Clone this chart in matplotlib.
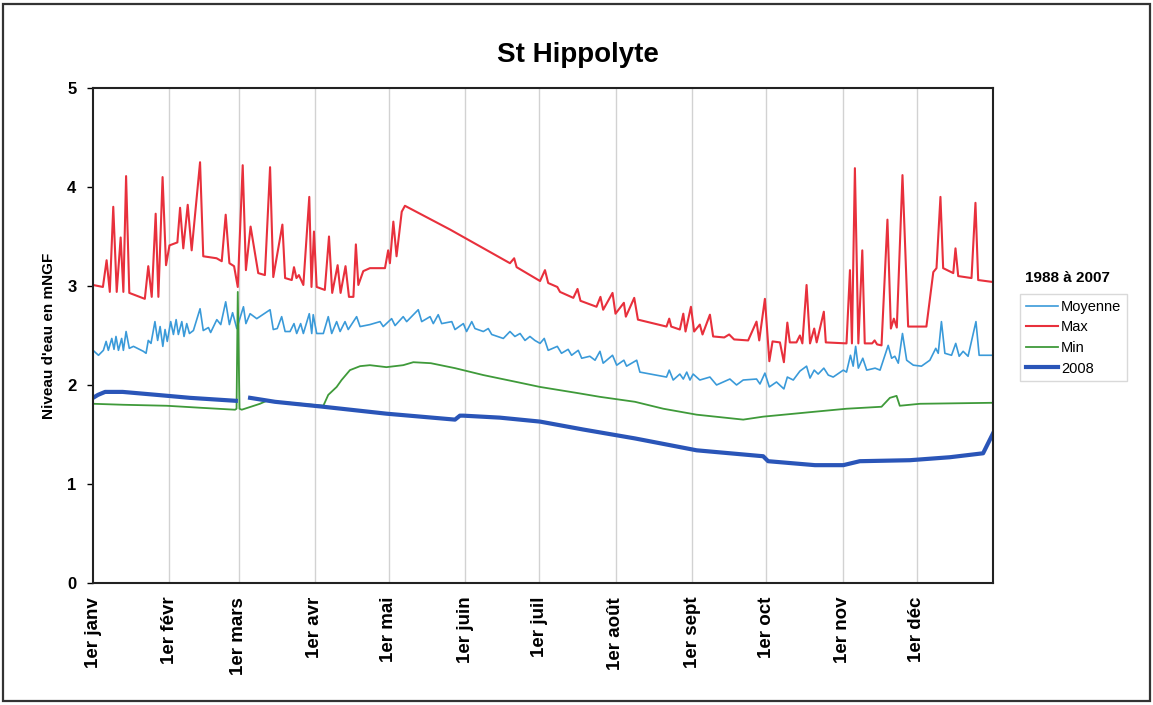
import numpy as np
import matplotlib
matplotlib.use("Agg")
import matplotlib.pyplot as plt
from matplotlib.patches import Rectangle

plt.rcParams['font.family'] = ['Liberation Sans', 'DejaVu Sans']

# month starts (day of year) and their labels
month_days = [0, 31, 59, 90, 120, 151, 181, 212, 243, 273, 304, 334]
month_labels = ["1er janv", "1er févr", "1er mars", "1er avr", "1er mai", "1er juin",
                "1er juil", "1er août", "1er sept", "1er oct", "1er nov", "1er déc"]

# Max 1988-2007 (day, level)
max_days = [0, 4, 5.5, 6.8, 8.2, 9.6, 11.2, 12.3, 13.4, 14.7, 21, 22.4, 23.8, 25.4, 26.5,
            28.2, 29.6, 31, 34.2, 35.3, 36.6, 38.4, 40, 43.4, 44.7, 50.1, 52.2, 53.8, 55.3,
            57.2, 58.7, 60.7, 62, 63.9, 67, 69.7, 71.8, 73.1, 76.8, 77.9, 80.6, 81.5, 82.5,
            83.5, 85.3, 87.7, 88.6, 89.6, 90.7, 94, 95.7, 97, 99.2, 100.4, 102.4, 103.8,
            105.6, 106.6, 107.6, 109.6, 112.3, 118.4, 119.7, 120.4, 121.8, 123.1, 125.2,
            126.5, 144.8, 169.1, 170.8, 171.8, 181.3, 183.3, 184.6, 188.3, 189.4, 194.8,
            196.5, 197.7, 204.2, 205.8, 206.9, 210.7, 211.9, 215.3, 216.1, 219.5, 221,
            232.6, 233.7, 234.5, 238, 239.4, 240.3, 242.5, 243.8, 246.1, 247.2, 250.2,
            251.5, 256, 258, 260, 265.7, 269.1, 270.2, 272.5, 274.3, 275.6, 278.6, 280.2,
            281.6, 282.6, 285.3, 286.7, 287.7, 289.4, 290.8, 292.5, 293.5, 296.4, 297.2,
            305.6, 307, 307.8, 309, 310.4, 312, 313, 316, 317, 318, 319.8, 322.2, 323.6,
            324.8, 326, 328.3, 330.6, 338, 340.8, 342.1, 343.7, 344.8, 348.9, 349.8, 350.9,
            356.3, 357.9, 359, 365]
max_vals = [3.01, 2.99, 3.26, 2.94, 3.80, 2.94, 3.49, 2.94, 4.11, 2.93, 2.87, 3.20, 2.89,
            3.73, 2.89, 4.10, 3.21, 3.41, 3.44, 3.79, 3.38, 3.82, 3.36, 4.25, 3.30, 3.28,
            3.25, 3.72, 3.23, 3.20, 2.99, 4.22, 3.16, 3.60, 3.13, 3.11, 4.20, 3.09, 3.62,
            3.08, 3.06, 3.19, 3.08, 3.11, 3.01, 3.90, 2.99, 3.55, 2.99, 2.96, 3.50, 2.93,
            3.21, 2.93, 3.20, 2.89, 2.89, 3.42, 3.01, 3.15, 3.18, 3.18, 3.36, 3.23, 3.65,
            3.30, 3.75, 3.81, 3.57, 3.23, 3.28, 3.19, 3.05, 3.16, 3.03, 2.99, 2.94, 2.88,
            2.97, 2.85, 2.79, 2.89, 2.76, 2.93, 2.72, 2.83, 2.69, 2.88, 2.66, 2.59, 2.67,
            2.59, 2.56, 2.72, 2.54, 2.79, 2.54, 2.61, 2.51, 2.71, 2.49, 2.48, 2.51, 2.46,
            2.45, 2.64, 2.45, 2.87, 2.24, 2.44, 2.43, 2.23, 2.63, 2.43, 2.43, 2.50, 2.42,
            3.01, 2.42, 2.57, 2.43, 2.74, 2.43, 2.42, 3.16, 2.42, 4.19, 2.42, 3.36, 2.42,
            2.42, 2.45, 2.41, 2.40, 3.67, 2.57, 2.67, 2.58, 4.12, 2.59, 2.59, 3.14, 3.18,
            3.90, 3.18, 3.13, 3.38, 3.10, 3.08, 3.84, 3.06, 3.04]

# Moyenne 1988-2007
moy_days = [0, 2.2, 4.2, 5.3, 6.2, 7.6, 8.5, 9.3, 10.3, 11.6, 12.3, 13.4, 14.7, 16.4, 20.4,
            21.5, 22.4, 23.5, 25.1, 26.2, 27.2, 28.3, 29.2, 30.1, 31.5, 32.6, 33.7, 34.6, 36,
            36.9, 38, 39.1, 40.7, 43.4, 44.7, 46.8, 47.7, 50.2, 51.8, 53.8, 55.3, 56.6, 58.3,
            61, 62, 63.7, 66.4, 71.8, 73.1, 74.7, 76.5, 77.9, 79.9, 81.5, 82.6, 84.2, 85.3,
            87.7, 88.7, 89.3, 90.7, 93.4, 95.4, 96.8, 98.8, 100.2, 102.2, 103.5, 106.9,
            108.3, 112.3, 116.4, 117.7, 121.1, 122.5, 125.8, 127.2, 131.9, 133.3, 136.7,
            138, 140, 141.4, 145.5, 146.8, 150.2, 151.5, 153.6, 154.9, 158.3, 160.3, 161.7,
            166.4, 169.1, 171.1, 173.2, 175.2, 177.2, 179.2, 181.3, 183, 184.6, 188.3, 190,
            192.7, 194.1, 196.8, 198.2, 201.5, 203.6, 205.6, 206.9, 210.7, 212.4, 215.3,
            216.4, 220.5, 221.8, 232.6, 233.7, 235.3, 238, 239.4, 240.8, 242.1, 243.4,
            246.1, 250.2, 252.9, 258.3, 261, 263.7, 269.1, 270.5, 272.5, 274.3, 277.2,
            280.2, 281.6, 284, 286.7, 289.4, 290.8, 292.5, 294.1, 296.4, 298.2, 300.2,
            304.3, 305.6, 307.2, 308.3, 309.3, 310.4, 312.2, 313.8, 317.2, 319.2, 322.5,
            323.9, 325.2, 326.6, 328.3, 330, 332.7, 336, 339.4, 341.8, 342.8, 344.1, 345.5,
            348.2, 349.9, 351.3, 352.9, 354.9, 358.1, 359.4, 365]
moy_vals = [2.35, 2.30, 2.35, 2.44, 2.35, 2.47, 2.36, 2.49, 2.35, 2.47, 2.35, 2.54, 2.37,
            2.39, 2.34, 2.32, 2.45, 2.42, 2.64, 2.45, 2.59, 2.39, 2.56, 2.44, 2.64, 2.51,
            2.66, 2.51, 2.64, 2.49, 2.62, 2.52, 2.55, 2.77, 2.55, 2.58, 2.53, 2.66, 2.61,
            2.84, 2.61, 2.73, 2.57, 2.79, 2.62, 2.72, 2.67, 2.76, 2.56, 2.57, 2.69, 2.54,
            2.54, 2.62, 2.52, 2.62, 2.52, 2.72, 2.52, 2.71, 2.52, 2.52, 2.69, 2.52, 2.64,
            2.54, 2.64, 2.56, 2.69, 2.59, 2.61, 2.64, 2.59, 2.67, 2.60, 2.69, 2.64, 2.76,
            2.64, 2.69, 2.62, 2.71, 2.62, 2.64, 2.56, 2.62, 2.54, 2.64, 2.57, 2.54, 2.57,
            2.51, 2.47, 2.54, 2.49, 2.52, 2.45, 2.49, 2.45, 2.42, 2.47, 2.35, 2.39, 2.32,
            2.36, 2.30, 2.35, 2.27, 2.29, 2.25, 2.34, 2.22, 2.30, 2.20, 2.25, 2.19, 2.25,
            2.13, 2.08, 2.15, 2.05, 2.11, 2.06, 2.13, 2.05, 2.11, 2.05, 2.08, 2.00, 2.06,
            2.00, 2.05, 2.06, 2.01, 2.12, 1.98, 2.03, 1.96, 2.08, 2.05, 2.14, 2.19, 2.07,
            2.15, 2.11, 2.17, 2.10, 2.08, 2.15, 2.13, 2.30, 2.19, 2.39, 2.17, 2.27, 2.15,
            2.17, 2.15, 2.40, 2.27, 2.29, 2.22, 2.52, 2.25, 2.20, 2.19, 2.25, 2.37, 2.32,
            2.64, 2.32, 2.30, 2.42, 2.29, 2.34, 2.29, 2.64, 2.30, 2.30]

# Min 1988-2007
min_days = [0, 12.3, 29.9, 43.4, 57.6, 58.2, 58.7, 59.4, 60.3, 64, 67.7, 70.4, 80, 93.4,
            95.4, 98.8, 100.8, 104.2, 108.3, 112.3, 119, 125.8, 129.9, 137, 146.8, 158.3,
            171.8, 181.3, 196.1, 205.6, 219.8, 231.3, 244.8, 263.7, 271.8, 292.8, 305.6,
            319.8, 323.2, 325.9, 327.2, 335.4, 365]
min_vals = [1.81, 1.80, 1.79, 1.77, 1.75, 1.76, 2.94, 1.76, 1.75, 1.78, 1.81, 1.84, 1.82,
            1.79, 1.90, 1.98, 2.05, 2.15, 2.19, 2.20, 2.18, 2.20, 2.23, 2.22, 2.17, 2.10,
            2.03, 1.98, 1.92, 1.88, 1.83, 1.76, 1.70, 1.65, 1.68, 1.73, 1.76, 1.78, 1.87,
            1.89, 1.79, 1.81, 1.82]

# 2008 (gap of missing days around 1er mars)
y08_days = [0, 2, 4.9, 12, 25.8, 39.3, 57.9, 60, 63.7, 73.8, 93.4, 119, 146.8, 148.8, 150.2,
            165, 181.3, 198.8, 219.8, 244.8, 271.8, 273.8, 292.8, 304.3, 311, 331.3, 347.5,
            361, 364.4, 365]
y08_vals = [1.87, 1.90, 1.93, 1.93, 1.90, 1.87, 1.84, np.nan, 1.87, 1.83, 1.78, 1.71, 1.65,
            1.69, 1.69, 1.67, 1.63, 1.55, 1.46, 1.34, 1.28, 1.23, 1.19, 1.19, 1.23, 1.24,
            1.27, 1.31, 1.48, 1.51]

fig = plt.figure(figsize=(11.53, 7.05), dpi=100)
fig.patches.append(Rectangle((0.003, 0.005), 0.994, 0.99, transform=fig.transFigure,
                             fill=False, edgecolor='#333333', linewidth=1.6))

ax = fig.add_axes([0.0807, 0.1731, 0.7805, 0.7021])

for d in month_days[1:]:
    ax.axvline(d, color='#d2d2d2', linewidth=1.0, zorder=0)

ax.plot(moy_days, moy_vals, color='#3a9ad9', linewidth=1.2, label='Moyenne')
ax.plot(max_days, max_vals, color='#e8303c', linewidth=1.5, label='Max')
ax.plot(min_days, min_vals, color='#3f9a3a', linewidth=1.3, label='Min')
ax.plot(y08_days, y08_vals, color='#2a55b8', linewidth=3.0, label='2008')

ax.set_xlim(0, 365)
ax.set_ylim(0, 5)
ax.set_yticks([0, 1, 2, 3, 4, 5])
ax.set_xticks(month_days)
ax.set_xticklabels(month_labels, rotation=90, fontsize=13.5, fontweight='bold')
ax.tick_params(axis='x', length=0, pad=10)
ax.tick_params(axis='y', length=4, width=1, labelsize=12, pad=8)
for lab in ax.get_yticklabels():
    lab.set_fontweight('bold')
for s in ax.spines.values():
    s.set_linewidth(1.5)
    s.set_color('#222222')

ax.set_ylabel("Niveau d'eau en mNGF", fontsize=11, fontweight='bold', labelpad=8)

fig.text(0.501, 0.922, "St Hippolyte", ha='center', va='center', fontsize=20, fontweight='bold')

fig.text(0.926, 0.606, "1988 à 2007", ha='center', va='center', fontsize=11, fontweight='bold')
leg = ax.legend(loc='upper left', bbox_to_anchor=(0.8846, 0.583), bbox_transform=fig.transFigure,
                fontsize=10.5, frameon=True, fancybox=False, handlelength=2.2, handletextpad=0.2,
                labelspacing=0.45, borderpad=0.4, borderaxespad=0)
leg.get_frame().set_edgecolor('#d0d0d0')
leg.get_frame().set_linewidth(1.0)

fig.savefig("out.png", dpi=100)
